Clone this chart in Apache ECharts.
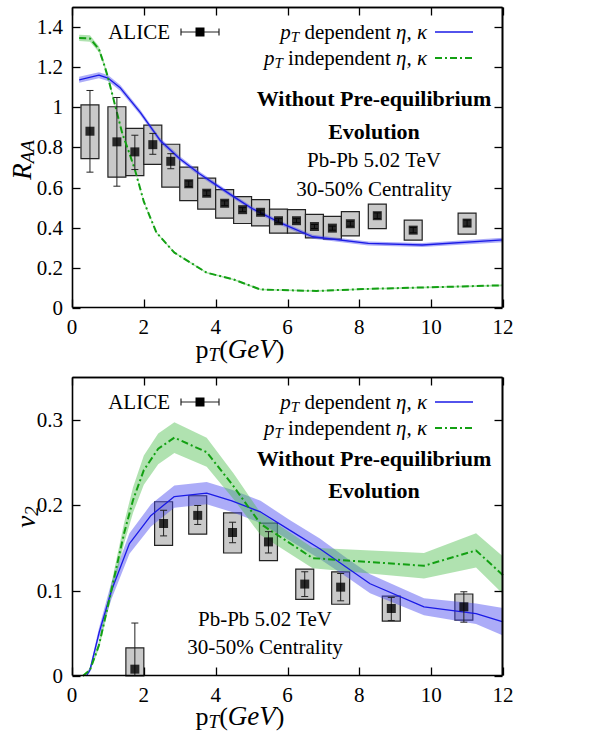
<!DOCTYPE html>
<html><head><meta charset="utf-8">
<script src="https://cdn.jsdelivr.net/npm/echarts/dist/echarts.min.js"></script>
<style>html,body{margin:0;padding:0;background:#ffffff}#c{width:613px;height:734px;background:#ffffff}</style>
</head><body><div id="c"></div>
<script>
// ---------------- tick labels ----------------
const xTickLabels = ['0','2','4','6','8','10','12'];
const raaTickLabels = ['0','0.2','0.4','0.6','0.8','1','1.2','1.4'];
const v2TickLabels = ['0','0.1','0.2','0.3'];

// ---------------- R_AA panel: ALICE ----------------
const aliceRaaX = [0.5, 1.25, 1.75, 2.25, 2.75, 3.25, 3.75, 4.25, 4.75, 5.25, 5.75, 6.25, 6.75, 7.25, 7.75, 8.5, 9.5, 11.0];
const aliceRaaY = [0.881, 0.828, 0.778, 0.814, 0.731, 0.619, 0.572, 0.522, 0.490, 0.477, 0.435, 0.435, 0.406, 0.398, 0.420, 0.460, 0.388, 0.423];
const aliceRaaSysLo = [0.744, 0.652, 0.660, 0.716, 0.602, 0.535, 0.493, 0.448, 0.421, 0.409, 0.373, 0.373, 0.349, 0.343, 0.359, 0.396, 0.338, 0.368];
const aliceRaaSysHi = [1.012, 1.003, 0.895, 0.911, 0.816, 0.702, 0.647, 0.590, 0.555, 0.540, 0.493, 0.490, 0.467, 0.457, 0.480, 0.518, 0.438, 0.473];
const aliceRaaStatLo = [0.677, 0.607, 0.690, 0.766, 0.694, 0.605, 0.560, 0.510, 0.480, 0.466, 0.425, 0.425, 0.396, 0.388, 0.408, 0.446, 0.375, 0.408];
const aliceRaaStatHi = [1.084, 1.049, 0.861, 0.870, 0.769, 0.633, 0.584, 0.534, 0.500, 0.488, 0.445, 0.445, 0.416, 0.408, 0.432, 0.474, 0.401, 0.438];

// ---------------- R_AA panel: models ----------------
const raaDepX = [0.2, 0.75, 1.0, 1.35, 1.9, 2.45, 3.0, 3.55, 4.0, 4.5, 5.0, 5.85, 6.7, 8.25, 9.75, 12];
const raaDepY = [1.137, 1.160, 1.146, 1.096, 0.975, 0.836, 0.744, 0.669, 0.615, 0.555, 0.497, 0.420, 0.355, 0.322, 0.314, 0.339];
const raaDepErr = [0.015, 0.015, 0.015, 0.014, 0.013, 0.012, 0.012, 0.011, 0.011, 0.010, 0.010, 0.010, 0.010, 0.010, 0.010, 0.011];

const raaIndX = [0.2, 0.5, 0.75, 0.9, 1.0, 1.2, 1.4, 1.6, 1.75, 2.0, 2.35, 2.85, 3.75, 4.5, 5.25, 6.8, 8.2, 12];
const raaIndY = [1.346, 1.343, 1.29, 1.21, 1.15, 1.01, 0.87, 0.77, 0.69, 0.53, 0.376, 0.276, 0.176, 0.142, 0.092, 0.085, 0.095, 0.113];
const raaIndErr = [0.016, 0.016, 0.015, 0.012, 0.010, 0.008, 0.006, 0.005, 0.005, 0.004, 0.004, 0.004, 0.004, 0.004, 0.004, 0.004, 0.004, 0.004];

// ---------------- v2 panel: ALICE ----------------
const aliceV2X = [1.75, 2.55, 3.5, 4.47, 5.47, 6.48, 7.48, 8.89, 10.91];
const aliceV2Y = [0.008, 0.1785, 0.188, 0.168, 0.157, 0.1076, 0.104, 0.079, 0.081];
const aliceV2SysLo = [-0.017, 0.153, 0.166, 0.144, 0.135, 0.0897, 0.084, 0.0643, 0.0655];
const aliceV2SysHi = [0.033, 0.204, 0.211, 0.191, 0.179, 0.125, 0.122, 0.0936, 0.096];
const aliceV2StatLo = [-0.046, 0.164, 0.1774, 0.156, 0.144, 0.093, 0.088, 0.065, 0.063];
const aliceV2StatHi = [0.062, 0.194, 0.1996, 0.180, 0.169, 0.122, 0.120, 0.092, 0.0986];

// ---------------- v2 panel: models ----------------
const v2DepX = [0.4, 0.5, 0.75, 1.1, 1.6, 2.2, 2.85, 3.75, 4.45, 5.25, 6.05, 6.9, 7.75, 8.3, 9.8, 11.25, 12];
const v2DepY = [0.0, 0.007, 0.05, 0.10, 0.155, 0.188, 0.21, 0.214, 0.205, 0.192, 0.171, 0.149, 0.124, 0.108, 0.081, 0.073, 0.0635];
const v2DepErr = [0.002, 0.003, 0.006, 0.010, 0.012, 0.013, 0.013, 0.013, 0.013, 0.013, 0.012, 0.012, 0.011, 0.011, 0.010, 0.012, 0.016];

const v2IndX = [0.3, 0.5, 0.75, 0.95, 1.2, 1.45, 1.7, 2.0, 2.4, 2.85, 3.75, 4.5, 5.25, 6.7, 9.8, 11.25, 12];
const v2IndY = [0.0, 0.007, 0.036, 0.073, 0.12, 0.167, 0.206, 0.241, 0.266, 0.279, 0.262, 0.222, 0.178, 0.138, 0.129, 0.147, 0.118];
const v2IndErr = [0.001, 0.002, 0.004, 0.006, 0.009, 0.012, 0.015, 0.017, 0.018, 0.018, 0.017, 0.015, 0.013, 0.012, 0.015, 0.020, 0.022];

const binHalfWidth = 0.25;

// ---------------- styles ----------------
const FONT = 'Liberation Serif';
const BLUE = '#1a1ae6';
const BLUE_BAND = 'rgba(70,70,240,0.45)';
const GREEN = '#13a013';
const GREEN_BAND = 'rgba(80,190,80,0.45)';
const DASHDOT = [7, 3, 2, 3];
const GRID_TOP = {left: 72, top: 7, width: 431, height: 301};
const GRID_BOT = {left: 72, top: 377, width: 431, height: 299};

const chart = echarts.init(document.getElementById('c'), null, {renderer: 'svg'});

function xAxisDef(grid) {
  return {
    gridIndex: grid, type: 'value', min: 0, max: 12, interval: 2,
    axisLine: {show: false}, axisTick: {show: false}, axisLabel: {show: false}, splitLine: {show: false}
  };
}
function yAxisDef(grid, max, interval) {
  return {
    gridIndex: grid, type: 'value', min: 0, max: max, interval: interval,
    axisLine: {show: false}, axisTick: {show: false}, axisLabel: {show: false}, splitLine: {show: false}
  };
}
function rectOf(cs) { return {x: cs.x, y: cs.y, width: cs.width, height: cs.height}; }

// Mirrored inward ticks and tick labels, placed through the axes' scales
function frameSeries(xi, yi, xLabels, yLabels) {
  return {
    type: 'custom', xAxisIndex: xi, yAxisIndex: yi, z: 20, silent: true,
    data: [[0, 0]],
    renderItem: function (params, api) {
      const r = rectOf(params.coordSys);
      const TL = 8;
      const st = {stroke: '#000', lineWidth: 1.3};
      const L = Math.round(r.x) + 0.5, R = Math.round(r.x + r.width) - 0.5;
      const T = Math.round(r.y) + 0.5, B = Math.round(r.y + r.height) - 0.5;
      const ch = [
        {type: 'line', shape: {x1: L, y1: T, x2: R, y2: T}, style: {stroke: '#000', lineWidth: 1.6}},
        {type: 'line', shape: {x1: R, y1: T, x2: R, y2: B}, style: {stroke: '#000', lineWidth: 1.6}},
        {type: 'line', shape: {x1: L, y1: B, x2: R, y2: B}, style: {stroke: '#000', lineWidth: 1.6}},
        {type: 'line', shape: {x1: L, y1: T, x2: L, y2: B}, style: {stroke: '#000', lineWidth: 1.6}}
      ];
      xLabels.forEach(function (lab) {
        const p = api.coord([+lab, 0]);
        const px = Math.round(p[0]) + 0.5;
        ch.push({type: 'line', shape: {x1: px, y1: B, x2: px, y2: B - TL}, style: st});
        ch.push({type: 'line', shape: {x1: px, y1: T, x2: px, y2: T + TL}, style: st});
        ch.push({type: 'text', style: {text: lab, x: p[0], y: r.y + r.height + 8, align: 'center', verticalAlign: 'top',
          fontFamily: FONT, fontSize: 21, fill: '#000'}});
      });
      yLabels.forEach(function (lab) {
        const p = api.coord([0, +lab]);
        const py = Math.round(p[1]) + 0.5;
        ch.push({type: 'line', shape: {x1: L, y1: py, x2: L + TL, y2: py}, style: st});
        ch.push({type: 'line', shape: {x1: R, y1: py, x2: R - TL, y2: py}, style: st});
        ch.push({type: 'text', style: {text: lab, x: r.x - 9, y: p[1], align: 'right', verticalAlign: 'middle',
          fontFamily: FONT, fontSize: 21, fill: '#000'}});
      });
      return {type: 'group', children: ch};
    }
  };
}

function bandSeries(xi, yi, xs, ys, err, color) {
  return {
    type: 'custom', xAxisIndex: xi, yAxisIndex: yi, z: 2, silent: true,
    data: xs.map((x, i) => [x, ys[i]]),
    renderItem: function (params, api) {
      if (params.dataIndex !== 0) return {type: 'group', children: []};
      const pts = [];
      for (let i = 0; i < xs.length; i++) pts.push(api.coord([xs[i], ys[i] + err[i]]));
      for (let i = xs.length - 1; i >= 0; i--) pts.push(api.coord([xs[i], ys[i] - err[i]]));
      const r = rectOf(params.coordSys);
      const clipped = pts.map(p => [Math.min(Math.max(p[0], r.x), r.x + r.width), Math.min(Math.max(p[1], r.y), r.y + r.height)]);
      return {type: 'polygon', shape: {points: clipped}, style: {fill: color}};
    }
  };
}
function lineSeries(xi, yi, xs, ys, color, width, type) {
  return {
    type: 'line', xAxisIndex: xi, yAxisIndex: yi, z: 3, silent: true,
    data: xs.map((x, i) => [x, ys[i]]), symbol: 'none', showSymbol: false,
    lineStyle: {color: color, width: width, type: type || 'solid'}
  };
}
function boxSeries(xi, yi, xs, lo, hi) {
  return {
    type: 'custom', xAxisIndex: xi, yAxisIndex: yi, z: 1, silent: true,
    data: xs.map((x, i) => [x, lo[i], hi[i]]), encode: {x: 0, y: [1, 2]},
    renderItem: function (params, api) {
      const x = api.value(0), l = api.value(1), h = api.value(2);
      const p1 = api.coord([x - binHalfWidth, h]), p2 = api.coord([x + binHalfWidth, l]);
      const r = rectOf(params.coordSys);
      const y1 = Math.max(p1[1], r.y), y2 = Math.min(p2[1], r.y + r.height);
      return {type: 'rect', shape: {x: p1[0], y: y1, width: p2[0] - p1[0], height: y2 - y1},
        style: {fill: '#c9c9c9', stroke: '#222', lineWidth: 1.2}};
    }
  };
}
function errSeries(xi, yi, xs, lo, hi) {
  return {
    type: 'custom', xAxisIndex: xi, yAxisIndex: yi, z: 4, silent: true,
    data: xs.map((x, i) => [x, lo[i], hi[i]]), encode: {x: 0, y: [1, 2]},
    renderItem: function (params, api) {
      const x = api.value(0);
      const a = api.coord([x, api.value(2)]), b = api.coord([x, api.value(1)]);
      const r = rectOf(params.coordSys);
      const bottom = r.y + r.height;
      const by = Math.min(b[1], bottom);
      const st = {stroke: '#222', lineWidth: 1};
      const ch = [
        {type: 'line', shape: {x1: a[0], y1: a[1], x2: a[0], y2: by}, style: st},
        {type: 'line', shape: {x1: a[0] - 3.5, y1: a[1], x2: a[0] + 3.5, y2: a[1]}, style: st}
      ];
      if (b[1] <= bottom) ch.push({type: 'line', shape: {x1: b[0] - 3.5, y1: b[1], x2: b[0] + 3.5, y2: b[1]}, style: st});
      return {type: 'group', children: ch};
    }
  };
}
function markSeries(xi, yi, xs, ys) {
  return {
    type: 'scatter', xAxisIndex: xi, yAxisIndex: yi, z: 5, silent: true,
    data: xs.map((x, i) => [x, ys[i]]), symbol: 'rect', symbolSize: 9,
    itemStyle: {color: '#000'}
  };
}

const rich = {
  it: {fontFamily: FONT, fontStyle: 'italic', fontSize: 21, fill: '#000'},
  rm: {fontFamily: FONT, fontSize: 21, fill: '#000'},
  sub: {fontFamily: FONT, fontStyle: 'italic', fontSize: 15, fill: '#000', padding: [9, 0, 0, 0]}
};
const richBig = {
  it: {fontFamily: FONT, fontStyle: 'italic', fontSize: 27, fill: '#000'},
  rm: {fontFamily: FONT, fontSize: 26, fill: '#000'},
  sub: {fontFamily: FONT, fontStyle: 'italic', fontSize: 19, fill: '#000', padding: [10, 0, 0, 0]}
};

function frameGraphics(g) {
  const st = {stroke: '#000', lineWidth: 1.6};
  const L = g.left + 0.5, R = g.left + g.width - 0.5, T = g.top + 0.5, B = g.top + g.height - 0.5;
  return [
    {type: 'line', z: 100, shape: {x1: L, y1: T, x2: R, y2: T}, style: st},
    {type: 'line', z: 100, shape: {x1: R, y1: T, x2: R, y2: B}, style: st}
  ];
}
function legendGraphics(dy) {
  const y1 = 32 + dy, y2 = 58 + dy;
  const st = {stroke: '#222', lineWidth: 1.2};
  return [
    {type: 'text', style: {text: 'ALICE', x: 170, y: y1, align: 'right', verticalAlign: 'middle', fontFamily: FONT, fontSize: 21, fill: '#000'}},
    {type: 'line', shape: {x1: 181, y1: y1, x2: 219, y2: y1}, style: st},
    {type: 'line', shape: {x1: 181, y1: y1 - 3.5, x2: 181, y2: y1 + 3.5}, style: st},
    {type: 'line', shape: {x1: 219, y1: y1 - 3.5, x2: 219, y2: y1 + 3.5}, style: st},
    {type: 'rect', shape: {x: 195.5, y: y1 - 4.5, width: 9, height: 9}, style: {fill: '#000'}},
    {type: 'text', style: {text: '{it|p}{sub|T}{rm| dependent }{it|η, κ}', rich: rich, x: 427, y: y1, align: 'right', verticalAlign: 'middle'}},
    {type: 'line', shape: {x1: 435, y1: y1, x2: 473, y2: y1}, style: {stroke: BLUE, lineWidth: 1.5}},
    {type: 'text', style: {text: '{it|p}{sub|T}{rm| independent }{it|η, κ}', rich: rich, x: 427, y: y2, align: 'right', verticalAlign: 'middle'}},
    {type: 'line', shape: {x1: 435, y1: y2, x2: 473, y2: y2}, style: {stroke: GREEN, lineWidth: 2, lineDash: DASHDOT}}
  ];
}
function txt(t, x, y, size, bold) {
  return {type: 'text', style: {text: t, x: x, y: y, align: 'center', verticalAlign: 'middle', fontFamily: FONT, fontSize: size, fontWeight: bold ? 'bold' : 'normal', fill: '#000'}};
}

const graphics = [].concat(
  frameGraphics(GRID_TOP), frameGraphics(GRID_BOT),
  legendGraphics(0), legendGraphics(370),
  [
    txt('Without Pre-equilibrium', 374, 98, 22, true),
    txt('Evolution', 374, 131, 22, true),
    txt('Pb-Pb 5.02 TeV', 374, 160, 21, false),
    txt('30-50% Centrality', 374, 189, 21, false),
    txt('Without Pre-equilibrium', 374, 458, 22, true),
    txt('Evolution', 374, 490, 22, true),
    txt('Pb-Pb 5.02 TeV', 265, 619, 21, false),
    txt('30-50% Centrality', 265, 647, 21, false),
    {type: 'text', x: 22, y: 160, rotation: Math.PI / 2, style: {text: '{it|R}{sub|AA}', rich: richBig, x: 0, y: 0, align: 'center', verticalAlign: 'middle'}},
    {type: 'text', x: 26, y: 517, rotation: Math.PI / 2, style: {text: '{it|v}{sub|2}', rich: richBig, x: 0, y: 0, align: 'center', verticalAlign: 'middle'}},
    {type: 'text', style: {text: '{rm|p}{sub|T}{rm|(}{it|GeV}{rm|)}', rich: richBig, x: 240, y: 349, align: 'center', verticalAlign: 'middle'}},
    {type: 'text', style: {text: '{rm|p}{sub|T}{rm|(}{it|GeV}{rm|)}', rich: richBig, x: 240, y: 716, align: 'center', verticalAlign: 'middle'}}
  ]
);

const option = {
  animation: false,
  grid: [GRID_TOP, GRID_BOT],
  xAxis: [xAxisDef(0), xAxisDef(1)],
  yAxis: [yAxisDef(0, 1.5, 0.2), yAxisDef(1, 0.35, 0.1)],
  series: [
    boxSeries(0, 0, aliceRaaX, aliceRaaSysLo, aliceRaaSysHi),
    bandSeries(0, 0, raaDepX, raaDepY, raaDepErr, BLUE_BAND),
    bandSeries(0, 0, raaIndX, raaIndY, raaIndErr, GREEN_BAND),
    lineSeries(0, 0, raaDepX, raaDepY, BLUE, 1.3),
    lineSeries(0, 0, raaIndX, raaIndY, GREEN, 2, DASHDOT),
    errSeries(0, 0, aliceRaaX, aliceRaaStatLo, aliceRaaStatHi),
    markSeries(0, 0, aliceRaaX, aliceRaaY),
    frameSeries(0, 0, xTickLabels, raaTickLabels),

    boxSeries(1, 1, aliceV2X, aliceV2SysLo, aliceV2SysHi),
    bandSeries(1, 1, v2DepX, v2DepY, v2DepErr, BLUE_BAND),
    bandSeries(1, 1, v2IndX, v2IndY, v2IndErr, GREEN_BAND),
    lineSeries(1, 1, v2DepX, v2DepY, BLUE, 1.3),
    lineSeries(1, 1, v2IndX, v2IndY, GREEN, 2, DASHDOT),
    errSeries(1, 1, aliceV2X, aliceV2StatLo, aliceV2StatHi),
    markSeries(1, 1, aliceV2X, aliceV2Y),
    frameSeries(1, 1, xTickLabels, v2TickLabels)
  ],
  graphic: graphics
};
chart.setOption(option);
</script>
</body></html>
